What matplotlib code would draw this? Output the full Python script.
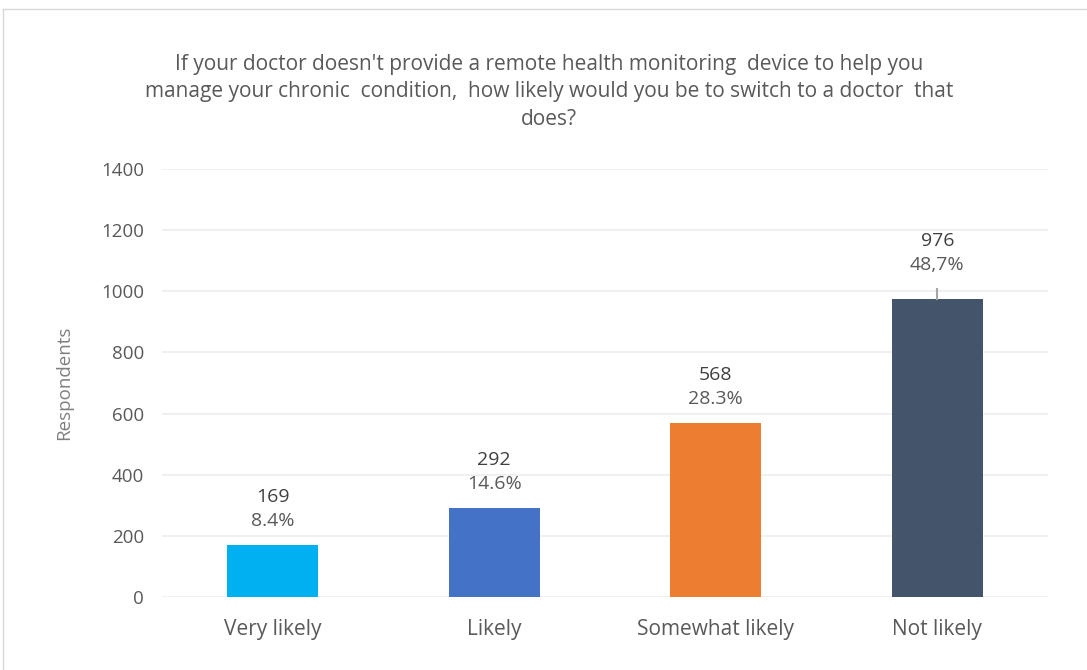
import matplotlib
matplotlib.use("Agg")
import matplotlib.pyplot as plt
from matplotlib.lines import Line2D

categories = ["Very likely", "Likely", "Somewhat likely", "Not likely"]
values = [169, 292, 568, 976]
percents = ["8.4%", "14.6%", "28.3%", "48,7%"]
colors = ["#00B0F0", "#4472C4", "#ED7D31", "#44546A"]
yticks = [0, 200, 400, 600, 800, 1000, 1200, 1400]

plt.rcParams['font.family'] = ['Open Sans', 'DejaVu Sans']

W, H = 1087, 670
fig = plt.figure(figsize=(W / 100, H / 100), dpi=100)
ax = fig.add_axes([162 / W, 1 - 597 / H, (1048 - 162) / W, (597 - 169) / H])

x = list(range(len(categories)))
ax.bar(x, values, width=0.41, color=colors, zorder=3)
ax.set_xlim(-0.5, 3.5)
ax.set_ylim(0, 1400)
ax.set_yticks(yticks)
ax.set_yticklabels([str(t) for t in yticks], fontsize=13.5, color="#595959")
ax.set_xticks(x)
ax.set_xticklabels(categories, fontsize=15, color="#595959")
ax.tick_params(axis='both', length=0)
ax.tick_params(axis='y', pad=13)
ax.tick_params(axis='x', pad=16)
ax.grid(axis='y', color="#EDEDED", linewidth=1.2, zorder=0)
for s in ax.spines.values():
    s.set_visible(False)
ax.set_ylabel("Respondents", fontsize=13.5, color="#7F7F7F", labelpad=20)

for i, (v, p) in enumerate(zip(values, percents)):
    off = 0
    if i == 3:
        off = 30
        ax.plot([i, i], [v, v + off], color="#A6A6A6", linewidth=1.5, zorder=4)
    ax.annotate(str(v), (i, v + off), xytext=(0, 48), textcoords='offset pixels',
                ha='center', va='center', fontsize=14, color="#404040")
    ax.annotate(p, (i, v + off), xytext=(0, 24), textcoords='offset pixels',
                ha='center', va='center', fontsize=14, color="#595959")

fig.text(0.505, 1 - 92 / H,
         "If your doctor doesn't provide a remote health monitoring  device to help you\n"
         "manage your chronic  condition,  how likely would you be to switch to a doctor  that\n"
         "does?", ha='center', va='center', fontsize=15, color="#595959", linespacing=1.4)

fig.add_artist(Line2D([3 / W, 3 / W], [0, 1 - 9 / H], transform=fig.transFigure,
                      color="#D9D9D9", linewidth=1))
fig.add_artist(Line2D([3 / W, 1], [1 - 9 / H, 1 - 9 / H], transform=fig.transFigure,
                      color="#D9D9D9", linewidth=1))

fig.savefig("out.png", dpi=100)
